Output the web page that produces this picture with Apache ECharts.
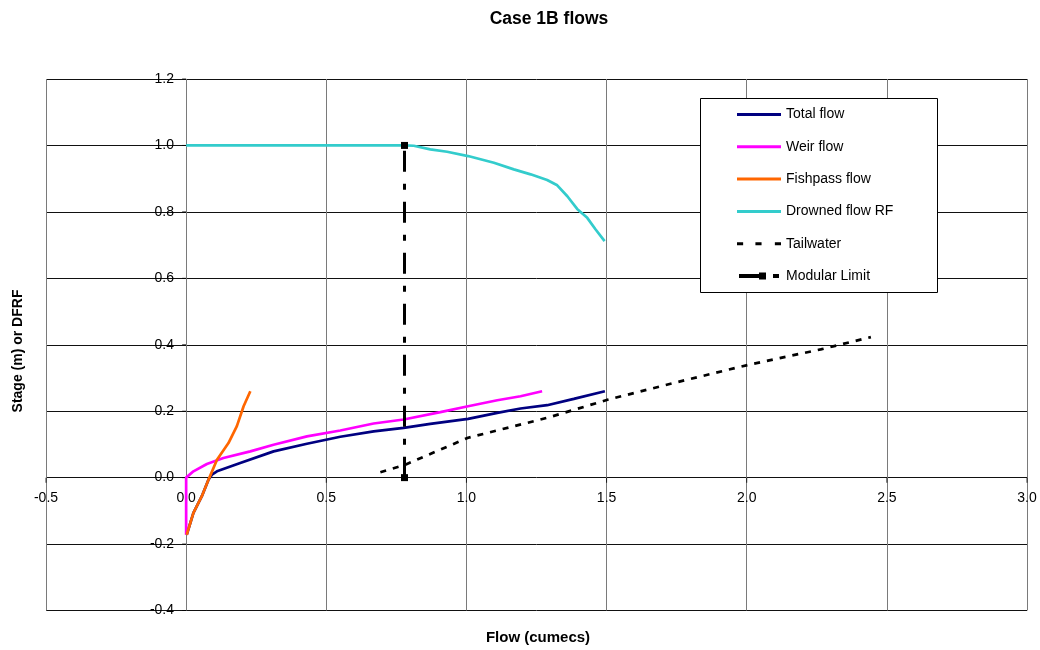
<!DOCTYPE html>
<html>
<head>
<meta charset="utf-8">
<script src="https://cdn.jsdelivr.net/npm/echarts@6/dist/echarts.min.js"></script>
<style>
  html, body { margin: 0; padding: 0; background: #fff; }
  #chart { width: 1040px; height: 650px; }
</style>
</head>
<body>
<div id="chart"></div>
<script>
// values: [flow, stage]
const totalFlow = [[0.002,-0.172],[0.026,-0.106],[0.056,-0.056],[0.08,-0.006],[0.092,0.009],[0.11,0.019],[0.193,0.044],[0.312,0.079],[0.431,0.102],[0.55,0.123],[0.669,0.139],[0.776,0.15],[0.871,0.162],[1.006,0.177],[1.11,0.195],[1.193,0.208],[1.288,0.218],[1.383,0.237],[1.494,0.26]]
const weirFlow = [[0,-0.172],[0,0],[0.026,0.019],[0.074,0.041],[0.133,0.059],[0.229,0.079],[0.312,0.099],[0.431,0.124],[0.55,0.142],[0.669,0.163],[0.776,0.175],[0.907,0.197],[1.006,0.215],[1.11,0.233],[1.193,0.245],[1.27,0.26]]
const fishpassFlow = [[0.002,-0.172],[0.026,-0.106],[0.056,-0.056],[0.08,-0.006],[0.11,0.054],[0.151,0.104],[0.181,0.155],[0.205,0.215],[0.229,0.26]]
const drownedRF = [[0,1.0],[0.78,1.0],[0.812,0.999],[0.871,0.988],[0.931,0.981],[1.006,0.968],[1.098,0.948],[1.169,0.928],[1.229,0.913],[1.288,0.896],[1.324,0.88],[1.36,0.847],[1.395,0.809],[1.431,0.782],[1.461,0.747],[1.493,0.712]]
const tailwater = [[0.693,0.016],[0.782,0.039],[1.006,0.12],[1.288,0.18],[1.506,0.235],[1.74,0.285],[2.008,0.34],[2.264,0.386],[2.443,0.423]]
const modularLimit = [[0.779,0],[0.779,1.0]]

// tick positions (the axes cross at zero, Excel style)
const xTicks = [-0.5, 0, 0.5, 1.0, 1.5, 2.0, 2.5, 3.0]
const yTicks = [-0.4, -0.2, 0, 0.2, 0.4, 0.6, 0.8, 1.0, 1.2]

const seriesNames = ['Total flow', 'Weir flow', 'Fishpass flow', 'Drowned flow RF', 'Tailwater', 'Modular Limit']

const font = '"Liberation Sans", Arial, sans-serif'
const solidIcon = 'path://M0,2H44V5H0Z'

const chart = echarts.init(document.getElementById('chart'))

function line(name, data, color, extra) {
  return Object.assign({
    name: name,
    type: 'line',
    data: data,
    symbol: 'none',
    silent: true,
    animation: false,
    z: 3,
    color: color,
    lineStyle: { color: color, width: 2.7 }
  }, extra || {})
}

chart.setOption({
  backgroundColor: '#fff',
  animation: false,
  grid: { left: 46, right: 13, top: 79, bottom: 39.5, containLabel: false },
  xAxis: {
    type: 'value',
    min: -0.5,
    max: 3.0,
    interval: 0.5,
    axisLine: { show: false, onZero: false },
    axisTick: { show: false },
    axisLabel: {
      color: '#000', fontSize: 14, fontFamily: font, margin: -119.5,
      formatter: v => v.toFixed(1)
    },
    splitLine: { show: true, lineStyle: { color: '#7a7a7a', width: 1 } }
  },
  yAxis: {
    type: 'value',
    min: -0.4,
    max: 1.2,
    interval: 0.2,
    axisLine: { show: false, onZero: false },
    axisTick: { show: false },
    axisLabel: {
      color: '#000', fontSize: 14, fontFamily: font, margin: -128,
      formatter: v => v.toFixed(1)
    },
    splitLine: { show: true, lineStyle: { color: '#111', width: 1 } }
  },
  legend: {
    orient: 'vertical',
    left: 737,
    top: 106.5,
    padding: 0,
    itemWidth: 44,
    itemHeight: 7,
    itemGap: 16.3,
    selectedMode: false,
    textStyle: { color: '#000', fontSize: 14, fontFamily: font, lineHeight: 16 },
    data: [
      { name: seriesNames[0], icon: solidIcon },
      { name: seriesNames[1], icon: solidIcon },
      { name: seriesNames[2], icon: solidIcon },
      { name: seriesNames[3], icon: solidIcon },
      { name: seriesNames[4], icon: 'path://M0,2H6V5H0Z M18,2H24V5H18Z M37,2H43V5H37Z' },
      { name: seriesNames[5], icon: 'path://M0,1.5H21V5.5H0Z M20,0H27V7H20Z M34,1.5H40V5.5H34Z' }
    ]
  },
  graphic: [
    {
      type: 'rect', z: 3,
      shape: { x: 700.5, y: 98.5, width: 237, height: 194 },
      style: { fill: '#fff', stroke: '#000', lineWidth: 1 }
    },
    {
      type: 'text', x: 549, y: 19, z: 5,
      style: { text: 'Case 1B flows', font: 'bold 17.5px ' + font, fill: '#000', textAlign: 'center', textVerticalAlign: 'middle' }
    },
    {
      type: 'text', x: 538, y: 638, z: 5,
      style: { text: 'Flow (cumecs)', font: 'bold 15px ' + font, fill: '#000', textAlign: 'center', textVerticalAlign: 'middle' }
    },
    {
      type: 'text', x: 18, y: 351, z: 5, rotation: Math.PI / 2,
      style: { text: 'Stage (m) or DFRF', font: 'bold 14px ' + font, fill: '#000', textAlign: 'center', textVerticalAlign: 'middle' }
    }
  ],
  series: [
    line(seriesNames[0], totalFlow, '#000080'),
    line(seriesNames[1], weirFlow, '#ff00ff'),
    line(seriesNames[2], fishpassFlow, '#ff6600'),
    line(seriesNames[3], drownedRF, '#33cccc'),
    line(seriesNames[4], tailwater, '#000', {
      lineStyle: { color: '#000', width: 2.7, type: [6, 7] }
    }),
    line(seriesNames[5], modularLimit, '#000', {
      symbol: 'rect',
      symbolSize: 7,
      itemStyle: { color: '#000' },
      lineStyle: { color: '#000', width: 3, type: [21, 12, 6, 12] }
    }),
    {
      // tick marks on the x axis, which sits at stage 0
      name: 'xticks', type: 'scatter', silent: true, z: 2,
      data: xTicks.map(t => [t, 0]),
      symbol: 'rect', symbolSize: [1, 5], symbolOffset: [0, 2.5],
      itemStyle: { color: '#000' }
    },
    {
      // tick marks on the y axis, which sits at flow 0
      name: 'yticks', type: 'scatter', silent: true, z: 2,
      data: yTicks.map(t => [0, t]),
      symbol: 'rect', symbolSize: [4, 1], symbolOffset: [-2, 0],
      itemStyle: { color: '#000' }
    }
  ]
})
</script>
</body>
</html>
